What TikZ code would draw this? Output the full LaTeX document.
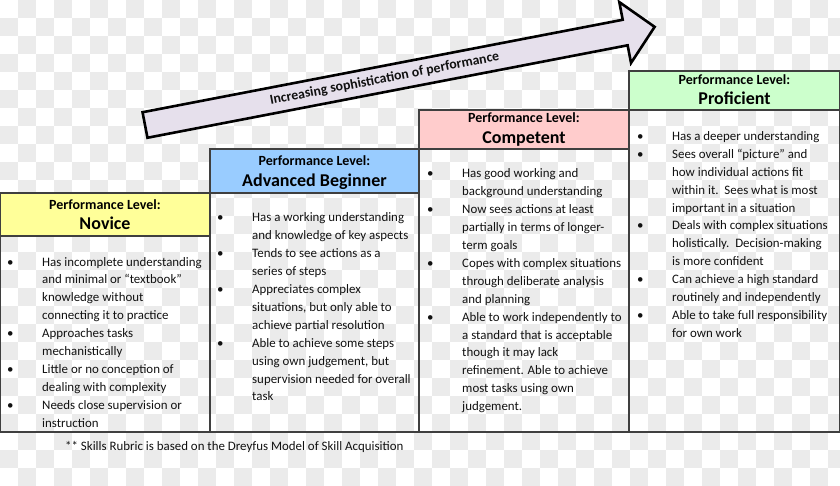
\documentclass[tikz,border=0pt]{standalone}
\usepackage{fontspec}
\setmainfont{Carlito}
\usepackage{tikz}
\definecolor{checker grey}{HTML}{EBEBEB}
\definecolor{novice yellow}{HTML}{FFFF99}
\definecolor{beginner blue}{HTML}{99CCFF}
\definecolor{competent pink}{HTML}{FFCCCC}
\definecolor{proficient green}{HTML}{CCFFCC}
\definecolor{arrow lilac}{HTML}{E6E0EC}
\definecolor{frame grey}{HTML}{3F3F3F}
\definecolor{ink}{HTML}{111111}

\tikzset{
	frame/.style = {draw=frame grey, line width=2pt},
	levelhead/.style = {font=\bfseries\fontsize{14}{16}\selectfont, anchor=base, inner sep=0pt},
	levelname/.style = {font=\bfseries\fontsize{18}{20}\selectfont, anchor=base, inner sep=0pt},
	levelbody/.style = {font=\fontsize{12.9}{17.9}\selectfont, text=ink, anchor=base west, inner sep=0pt},
}
\newcommand{\rubriclist}[1]{\begin{tabular}[t]{@{}p{35pt}@{}l@{}}#1\end{tabular}}

\begin{document}
\begin{tikzpicture}[x=1pt, y=-1pt]
	\useasboundingbox (0,0) rectangle (840,486);
	% transparent background squares
	\begin{scope}
		\clip (0,0) rectangle (840,486);
		\foreach \j in {0,...,26} {
			\pgfmathsetmacro\off{mod(\j+1,2)*18}
			\foreach \i in {0,...,23}
				\fill[checker grey] (\off+36*\i, 18*\j) rectangle +(18,18);
		}
	\end{scope}
	% arrow
	\begin{scope}[shift={(145,125)}, rotate=10.9]
		\draw[fill=arrow lilac, line width=2.6pt, line join=miter]
			(0,-13) -- (489,-13) -- (489,-31) -- (519,0) -- (489,31) -- (489,13) -- (0,13) -- cycle;
		\node[transform shape, font=\bfseries\fontsize{13.8}{15}\selectfont, text=ink] (trend) at (244,0) {Increasing sophistication of performance};
	\end{scope}
	% column boxes
	\draw[frame, fill=novice yellow] (0,193) rectangle (210,236);
	\draw[frame] (0,236) rectangle (210,432);
	\draw[frame, fill=beginner blue] (210,149) rectangle (419,193);
	\draw[frame] (210,193) rectangle (419,432);
	\draw[frame, fill=competent pink] (419,110) rectangle (629,149);
	\draw[frame] (419,149) rectangle (629,432);
	\draw[frame, fill=proficient green] (629,71) rectangle (840,110);
	\draw[frame] (629,110) rectangle (840,432);
	% headings
	\node[levelhead] (novhead) at (105,209.5) {Performance Level:};
	\node[levelname] (novname) at (105,230) {Novice};
	\node[levelhead] (beghead) at (314.5,166) {Performance Level:};
	\node[levelname] (begname) at (314.5,186.5) {Advanced Beginner};
	\node[levelhead] (comhead) at (524,123) {Performance Level:};
	\node[levelname] (comname) at (524,143.5) {Competent};
	\node[levelhead] (prohead) at (734.5,85) {Performance Level:};
	\node[levelname] (proname) at (734.5,105) {Proficient};
	% bullet lists
	\node[levelbody] (novlist) at (7,266) {\rubriclist{
		• & Has incomplete understanding\\
		  & and minimal or “textbook”\\
		  & knowledge without\\
		  & connecting it to practice\\
		• & Approaches tasks\\
		  & mechanistically\\
		• & Little or no conception of\\
		  & dealing with complexity\\
		• & Needs close supervision or\\
		  & instruction}};
	\node[levelbody] (beglist) at (217,222) {\rubriclist{
		• & Has a working understanding\\
		  & and knowledge of key aspects\\
		• & Tends to see actions as a\\
		  & series of steps\\
		• & Appreciates complex\\
		  & situations, but only able to\\
		  & achieve partial resolution\\
		• & Able to achieve some steps\\
		  & using own judgement, but\\
		  & supervision needed for overall\\
		  & task}};
	\node[levelbody] (comlist) at (427,178) {\rubriclist{
		• & Has good working and\\
		  & background understanding\\
		• & Now sees actions at least\\
		  & partially in terms of longer-\\
		  & term goals\\
		• & Copes with complex situations\\
		  & through deliberate analysis\\
		  & and planning\\
		• & Able to work independently to\\
		  & a standard that is acceptable\\
		  & though it may lack\\
		  & refinement. Able to achieve\\
		  & most tasks using own\\
		  & judgement.}};
	\node[levelbody] (prolist) at (637,140.5) {\rubriclist{
		• & Has a deeper understanding\\
		• & Sees overall “picture” and\\
		  & how individual actions fit\\
		  & within it.\ \ Sees what is most\\
		  & important in a situation\\
		• & Deals with complex situations\\
		  & holistically.\ \ Decision-making\\
		  & is more confident\\
		• & Can achieve a high standard\\
		  & routinely and independently\\
		• & Able to take full responsibility\\
		  & for own work}};
	% footnote
	\node[levelbody] (source) at (65,450) {** Skills Rubric is based on the Dreyfus Model of Skill Acquisition};
\end{tikzpicture}
\end{document}
